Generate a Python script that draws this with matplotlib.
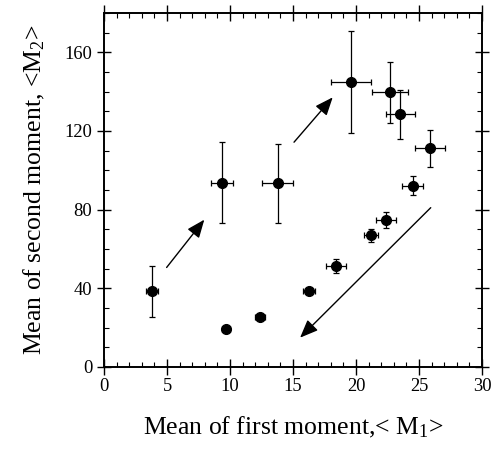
import numpy as np
import matplotlib
matplotlib.use('Agg')
from matplotlib import pyplot as plt
from matplotlib.ticker import MultipleLocator

plt.rcParams['font.family'] = ['Liberation Serif', 'DejaVu Serif']
plt.rcParams['mathtext.fontset'] = 'custom'
plt.rcParams['mathtext.rm'] = 'Liberation Serif'
plt.rcParams['mathtext.it'] = 'Liberation Serif:italic'

# data
m1 = [3.78, 9.39, 13.8, 19.6, 22.7, 23.5, 25.9, 24.5, 22.38, 21.16, 18.41, 16.27, 12.38, 9.68]
m2 = [38.4, 93.8, 93.4, 144.9, 139.6, 128.4, 111.2, 92.1, 74.7, 66.9, 51.5, 38.7, 25.6, 19.2]
m1_err = [0.48, 0.87, 1.23, 1.55, 1.45, 1.15, 1.2, 0.85, 0.8, 0.55, 0.77, 0.5, 0.4, 0.35]
m2_err = [13.0, 20.7, 20.0, 26.0, 15.5, 12.5, 9.4, 4.8, 4.2, 3.4, 3.6, 1.0, 1.0, 1.0]

# arrows (tail -> head)
arrows = [((4.97, 50.6), (7.96, 74.9)),
          ((15.08, 114.3), (18.15, 137.1)),
          ((25.93, 81.0), (15.56, 14.9))]

fig = plt.figure(figsize=(4.92, 4.51), dpi=100)
ax = fig.add_axes([0.2114, 0.1863, 0.7683, 0.7849])

ax.errorbar(m1, m2, xerr=m1_err, yerr=m2_err, fmt='o', color='black',
            markersize=7, elinewidth=0.9, capsize=2.5, capthick=0.9)

for (x0, y0), (x1, y1) in arrows:
    ax.annotate('', xy=(x1, y1), xytext=(x0, y0),
                arrowprops=dict(arrowstyle='-|>,head_length=1.1,head_width=0.45',
                                color='black', lw=1.0, shrinkA=0, shrinkB=0))

ax.set_xlim(0, 30)
ax.set_ylim(0, 180)
ax.xaxis.set_major_locator(MultipleLocator(5))
ax.xaxis.set_minor_locator(MultipleLocator(1))
ax.yaxis.set_major_locator(MultipleLocator(40))
ax.yaxis.set_minor_locator(MultipleLocator(10))
ax.tick_params(which='major', direction='inout', length=11.5, width=1.0,
               top=True, right=True, labelsize=13.3)
ax.tick_params(axis='x', which='major', pad=2.5)
ax.tick_params(axis='y', which='major', length=10, pad=3.3)
ax.tick_params(which='minor', direction='in', length=3.5, width=0.8,
               top=True, right=True)
for s in ax.spines.values():
    s.set_linewidth(1.4)

ax.set_xlabel(r'Mean of first moment,< M$_1$>', fontsize=18.5, labelpad=14)
ax.set_ylabel(r'Mean of second moment, <M$_2$>', fontsize=18.5, labelpad=13)

fig.savefig('out.png', dpi=100)
plt.close(fig)
